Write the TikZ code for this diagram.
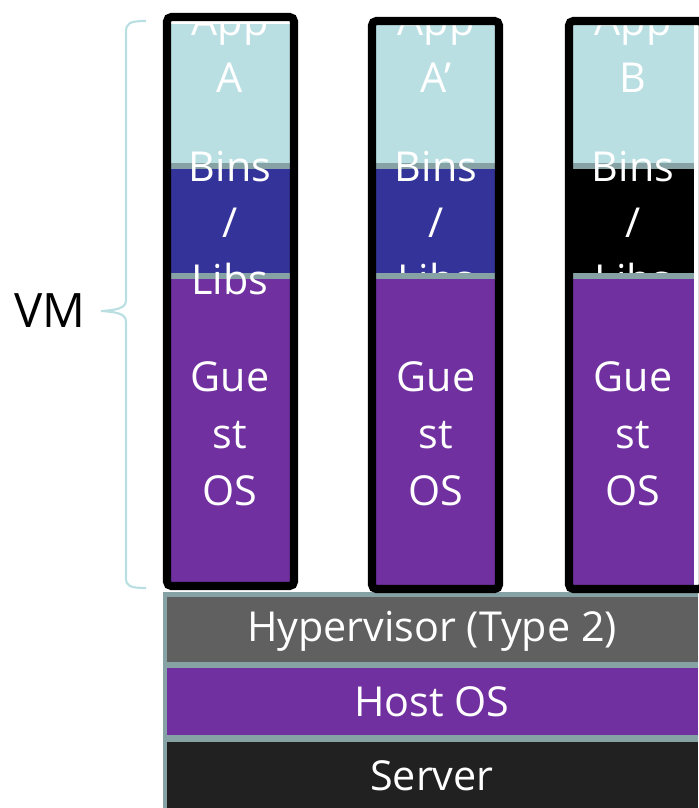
\documentclass[tikz,border=0pt]{standalone}
\usepackage{fontspec}
\setmainfont{Open Sans}
\definecolor{applight}{HTML}{B9DFE3}
\definecolor{binsblue}{HTML}{333399}
\definecolor{ospurple}{HTML}{7030A0}
\definecolor{seam}{HTML}{87A2A4}
\definecolor{hypgray}{HTML}{606060}
\definecolor{srvblack}{HTML}{212121}

\begin{document}
\begin{tikzpicture}[x=0.02cm, y=-0.02cm,
	lbl/.style={ text=white, font=\fontsize{23.5}{32.4}\selectfont, align=center, inner sep=0pt },
	vmframe/.style={ draw=black, line width=4.6pt, rounded corners=2.5pt },
	bracel/.style={ draw=applight, line width=1.2pt }
]
\useasboundingbox (0,0) rectangle (698,808);

% host stack
\fill[seam] (163,592) rectangle (698,808);
\fill[hypgray] (167,597) rectangle (698,662);
\fill[ospurple] (167,668) rectangle (698,735);
\fill[srvblack] (167,742) rectangle (698,808);
\node[lbl] (hyp) at (432,631) {Hypervisor (Type 2)};
\node[lbl] (host) at (432,702) {Host OS};
\node[lbl] (server) at (432,776) {Server};

% app and bins layers
\foreach \x/\bcol in {170/binsblue, 376/binsblue, 573/black} {
	\fill[applight] (\x,24) rectangle +(121,140);
	\fill[seam] (\x,163) rectangle +(121,6);
	\fill[\bcol] (\x,169) rectangle +(121,104);
}
\foreach \cx/\n in {436/2, 633/3} \node[lbl] (bins\n) at (\cx,223) {Bins\\/\\Libs};

% guest os layers
\foreach \x/\b in {170/582, 376/586, 573/586} {
	\fill[seam] (\x,273) rectangle +(121,6);
	\fill[ospurple] (\x,279) rectangle (\x+121,\b);
}
\node[lbl] (bins1) at (230,223) {Bins\\/\\Libs};

\foreach \cx/\app/\n in {230/A/1, 436/A’/2, 633/B/3} {
	\node[lbl] (app\n) at (\cx,49) {App\\\app};
	\node[lbl] (guest\n) at (\cx,434) {Gue\\st\\OS};
}

% vm frames
\draw[vmframe] (167,17) rectangle (294,586);
\draw[vmframe] (372,21) rectangle (499,589);
\draw[vmframe] (569,21) rectangle (703,589);

% brace
\draw[bracel] (146,21) .. controls (130,21) and (126,23) .. (126,32) -- (126,300)
	.. controls (126,308) and (118,310) .. (101,311)
	.. controls (118,312) and (126,314) .. (126,322) -- (126,578)
	.. controls (126,586) and (130,588) .. (146,588);
\node[font=\fontsize{27}{32}\selectfont, inner sep=0pt] (vm) at (50,311) {VM};

\end{tikzpicture}
\end{document}
